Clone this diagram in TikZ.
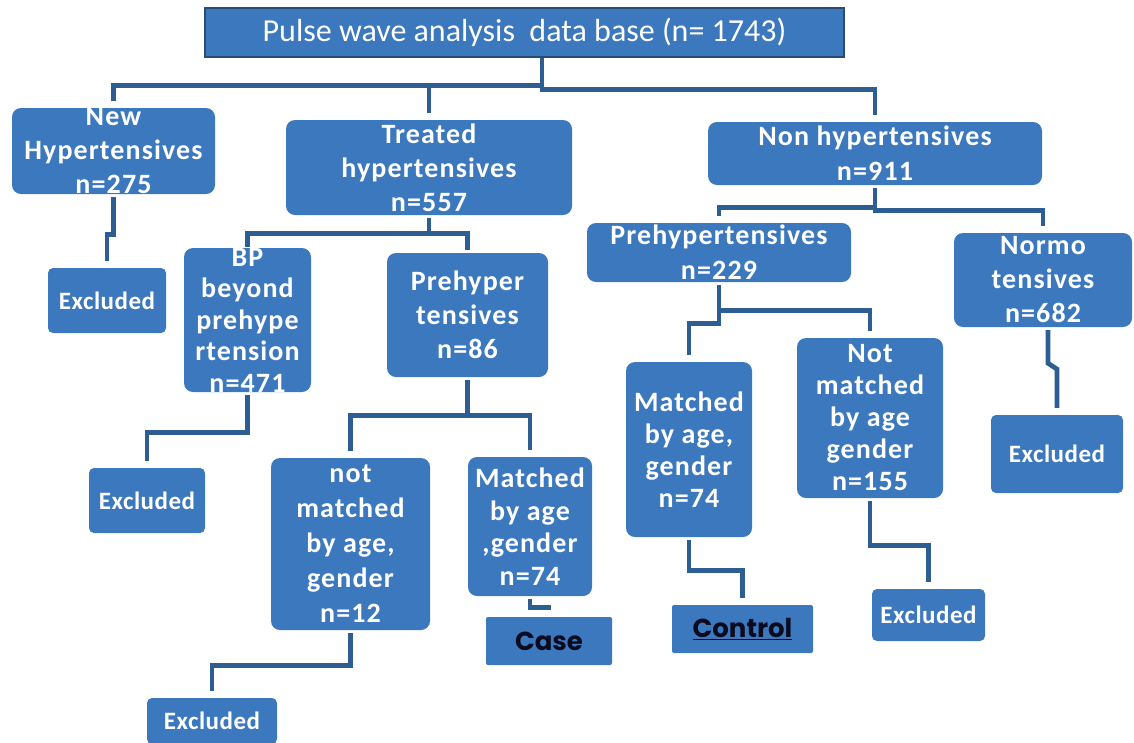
\documentclass[tikz,border=0pt]{standalone}
\usepackage{fontspec}
\setmainfont{Carlito}
\newfontfamily\popfont{Poppins}
\usepackage{xcolor}
\definecolor{boxblue}{HTML}{3C78BD}
\definecolor{linkblue}{HTML}{2D5E93}
\definecolor{topedge}{HTML}{2A4B73}
\definecolor{inkdark}{HTML}{0B0B1F}
\usepackage{tikz}

\begin{document}
\begin{tikzpicture}[
  x=1pt, y=-1pt,
  blk/.style={rectangle, rounded corners=9pt, fill=boxblue, inner sep=0pt},
  exbox/.style={rectangle, rounded corners=5pt, fill=boxblue, inner sep=0pt},
  endbox/.style={rectangle, rounded corners=2pt, fill=boxblue, inner sep=0pt},
  txt/.style={text=white, align=center, font=\fontsize{28}{34}\selectfont\bfseries\addfontfeature{LetterSpace=4}},
  extxt/.style={text=white, font=\fontsize{25}{30}\selectfont\bfseries\addfontfeature{LetterSpace=2}},
  endtxt/.style={text=inkdark, font=\popfont\fontsize{26}{30}\selectfont\bfseries},
  conn/.style={draw=linkblue, line width=4.8pt, shorten <=3pt, shorten >=7pt},
]
\useasboundingbox (0,0) rectangle (1134,742);
\fill[white] (0,0) rectangle (1134,742);

% Main nodes
\node[rectangle, fill=boxblue, draw=topedge, line width=2.5pt, minimum width=639pt, minimum height=49pt, inner sep=0pt, text=white, font=\fontsize{32}{36}\selectfont] (top) at (524.5,32.5) {Pulse wave analysis \ data base (n= 1743)};
\node[blk, minimum width=203pt, minimum height=86pt, label={[txt]center:{New\\Hypertensives\\n=275}}] (newhyp) at (113.5,151) {};
\node[blk, minimum width=286pt, minimum height=95pt, label={[txt]center:{Treated\\hypertensives\\n=557}}] (treated) at (429,167.5) {};
\node[blk, minimum width=334pt, minimum height=63pt, label={[txt, font=\fontsize{28}{35}\selectfont\bfseries\addfontfeature{LetterSpace=4}]center:{Non hypertensives\\n=911}}] (nonhyp) at (875,153.5) {};

% Second level
\node[exbox, minimum width=118pt, minimum height=65pt, label={[extxt]center:Excluded}] (excl1) at (107,300.5) {};
\node[blk, minimum width=127pt, minimum height=144pt, label={[txt, font=\fontsize{28}{31.5}\selectfont\bfseries\addfontfeature{LetterSpace=4}]center:{BP\\beyond\\prehype\\rtension\\n=471}}] (bp) at (247.5,320) {};
\node[blk, minimum width=161pt, minimum height=124pt, label={[txt]center:{Prehyper\\tensives\\n=86}}] (pre86) at (467.5,315) {};
\node[blk, minimum width=264pt, minimum height=59pt, label={[txt, font=\fontsize{28}{35}\selectfont\bfseries\addfontfeature{LetterSpace=4}]center:{Prehypertensives\\n=229}}] (pre229) at (719,252.5) {};
\node[blk, minimum width=178pt, minimum height=94pt, label={[txt]center:{Normo\\tensives\\n=682}}] (normo) at (1043,280) {};

% Third level
\node[exbox, minimum width=116pt, minimum height=65pt, label={[extxt]center:Excluded}] (excl2) at (147,500.5) {};
\node[blk, minimum width=159pt, minimum height=172pt, label={[txt, font=\fontsize{28}{35}\selectfont\bfseries\addfontfeature{LetterSpace=4}]center:{not\\matched\\by age,\\gender\\n=12}}] (notm12) at (350.5,544) {};
\node[blk, minimum width=124pt, minimum height=139pt, label={[txt, font=\fontsize{28}{32.5}\selectfont\bfseries\addfontfeature{LetterSpace=4}]center:{Matched\\by age\\,gender\\n=74}}] (match74a) at (530,526.5) {};
\node[blk, minimum width=126pt, minimum height=175pt, label={[txt, font=\fontsize{28}{32}\selectfont\bfseries\addfontfeature{LetterSpace=4}]center:{Matched\\by age,\\gender\\n=74}}] (match74b) at (689,449.5) {};
\node[blk, minimum width=146pt, minimum height=160pt, label={[txt, font=\fontsize{28}{32}\selectfont\bfseries\addfontfeature{LetterSpace=4}]center:{Not\\matched\\by age\\gender\\n=155}}] (notm155) at (870,418) {};
\node[exbox, minimum width=132pt, minimum height=78pt, label={[extxt]center:Excluded}] (excl4) at (1057,454) {};

% Bottom level
\node[endbox, minimum width=126pt, minimum height=48pt, label={[endtxt]center:Case}] (caseb) at (549,641) {};
\node[endbox, minimum width=141pt, minimum height=48pt, label={[endtxt]center:\underline{Control}}] (ctrl) at (742.5,629) {};
\node[exbox, minimum width=113pt, minimum height=52pt, label={[extxt]center:Excluded}] (excl5) at (928.5,615) {};
\node[exbox, minimum width=130pt, minimum height=46pt, label={[extxt]center:Excluded}] (excl3) at (212,721) {};

% Connectors from the data base
\draw[conn, shorten <=0pt] ([xshift=17.5pt]top.south) -- ++(0,27) -| (newhyp.north);
\draw[conn, shorten <=0pt] ([xshift=17.5pt]top.south) -- ++(0,27) -| (treated.north);
\draw[conn, shorten <=0pt] ([xshift=17.5pt]top.south) -- ++(0,31) -| (nonhyp.north);

% Connectors, second level
\draw[conn] (newhyp.south) -- ++(0,40) -| (excl1.north);
\draw[conn, shorten >=1pt] (treated.south) -- ++(0,18) -| (bp.north);
\draw[conn, shorten >=3pt] (treated.south) -- ++(0,18) -| (pre86.north);
\draw[conn] (nonhyp.south) -- ++(0,22) -| (pre229.north);
\draw[conn] (nonhyp.south) -- ++(0,25) -| (normo.north);

% Connectors, third level
\draw[conn] (bp.south) -- ++(0,40) -| (excl2.north);
\draw[conn] (pre86.south) -- ++(0,38) -| (notm12.north);
\draw[conn] (pre86.south) -- ++(0,38) -| (match74a.north);
\draw[conn] (pre229.south) -- ++(0,28) -| (notm155.north);
\draw[conn] (pre229.south) -- ++(0,41) -| (match74b.north);
\draw[conn] ([xshift=5pt]normo.south) -- ++(0,36) -- ++(9,6) -- (excl4.north);

% Connectors, bottom level
\draw[conn] (notm12.south) -- ++(0,35) -| (excl3.north);
\draw[conn] (match74a.south) -- ++(0,11) -| (caseb.north);
\draw[conn] (match74b.south) -- ++(0,33) -| (ctrl.north);
\draw[conn] (notm155.south) -- ++(0,47) -| (excl5.north);

\end{tikzpicture}
\end{document}
